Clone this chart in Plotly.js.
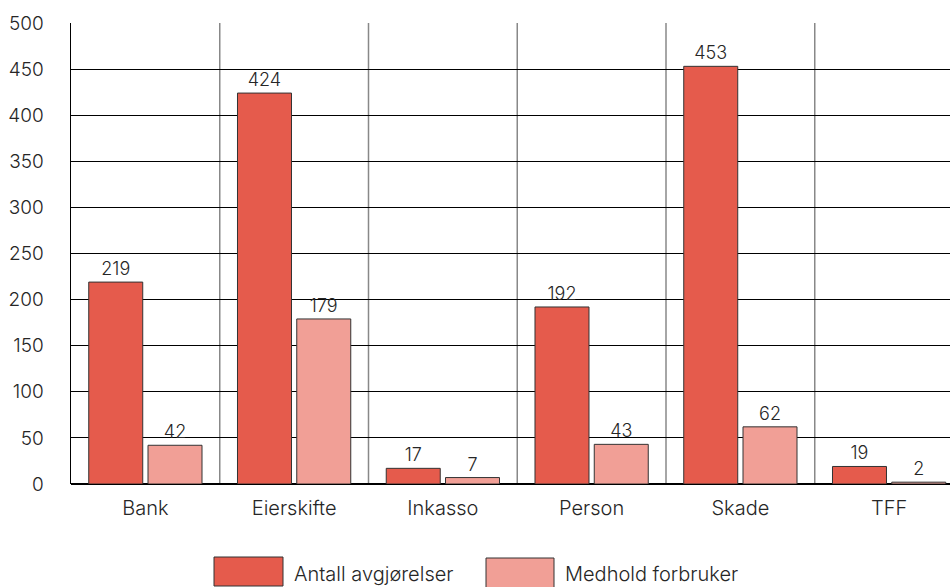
<!DOCTYPE html>
<html>
<head>
<meta charset="utf-8">
<script src="https://cdn.plot.ly/plotly-3.0.1.min.js"></script>
<style>
  html, body { margin: 0; padding: 0; background: #fff; overflow: hidden; }
  #chart { width: 950px; height: 587px; }
</style>
</head>
<body>
<div id="chart"></div>
<script>
// Complaint-board decisions per area
const categories = ["Bank", "Eierskifte", "Inkasso", "Person", "Skade", "TFF"];
const seriesNames = ["Antall avgjørelser", "Medhold forbruker"];
const antallAvgjorelser = [219, 424, 17, 192, 453, 19];
const medholdForbruker = [42, 179, 7, 43, 62, 2];
const yTicks = [0, 50, 100, 150, 200, 250, 300, 350, 400, 450, 500];

const colors = ["#E55B4C", "#F19F96"];
const FONT = "Inter, 'Noto Sans', sans-serif";
const TEXT = "#262626";
const WEIGHT = 300;

const W = 950, H = 587;
const M = { l: 71, r: 0, t: 23, b: 103 };
const plotW = W - M.l - M.r, plotH = H - M.t - M.b;
const catPx = 148.75; // width of one category slot
const xEnd = -0.5 + plotW / catPx;

function barTrace(name, values, color) {
  return {
    type: "bar",
    name: name,
    x: categories,
    y: values,
    text: values.map(String),
    textposition: "outside",
    cliponaxis: false,
    textfont: { family: FONT, size: 18, color: TEXT, weight: WEIGHT },
    marker: { color: color, line: { color: "#333", width: 1 } },
    showlegend: false,
    hoverinfo: "x+y+name"
  };
}

const data = [
  barTrace(seriesNames[0], antallAvgjorelser, colors[0]),
  barTrace(seriesNames[1], medholdForbruker, colors[1])
];

// gray separators between categories
const shapes = [];
for (let i = 1; i < categories.length; i++) {
  shapes.push({
    type: "line", xref: "x", yref: "paper",
    x0: i - 0.5, x1: i - 0.5, y0: 0, y1: 1,
    line: { color: "#888", width: 1.5 }, layer: "below"
  });
}

// custom legend below the plot (pixel -> paper helpers)
const px = v => (v - M.l) / plotW;
const py = v => (H - M.b - v) / plotH;
const annotations = [];
const legendItems = [
  { x: 214, w: 69, top: 557, bottom: 586 },
  { x: 486, w: 68, top: 558, bottom: 590 }
];
legendItems.forEach((it, i) => {
  shapes.push({
    type: "rect", xref: "paper", yref: "paper",
    x0: px(it.x), x1: px(it.x + it.w), y0: py(it.bottom), y1: py(it.top),
    fillcolor: colors[i], line: { color: "#333", width: 1 }
  });
  annotations.push({
    xref: "paper", yref: "paper",
    x: px(it.x + it.w + 9), y: py(574),
    xanchor: "left", yanchor: "middle",
    text: seriesNames[i], showarrow: false,
    font: { family: FONT, size: 20, color: TEXT, weight: WEIGHT }
  });
});

const layout = {
  width: W, height: H,
  margin: M,
  paper_bgcolor: "#fff",
  plot_bgcolor: "#fff",
  barmode: "group",
  bargap: 0.203,
  bargroupgap: 0.089,
  font: { family: FONT, color: TEXT, weight: WEIGHT },
  xaxis: {
    type: "category",
    range: [-0.5, xEnd],
    showgrid: false,
    showline: false,
    zeroline: false,
    ticks: "",
    ticklabelstandoff: 10,
    tickfont: { family: FONT, size: 20, color: TEXT, weight: WEIGHT },
    fixedrange: true
  },
  yaxis: {
    range: [0, 500],
    tickvals: yTicks,
    ticktext: yTicks.map(String),
    showgrid: true,
    gridcolor: "#000",
    gridwidth: 1,
    zeroline: true,
    zerolinecolor: "#000",
    zerolinewidth: 1.5,
    showline: true,
    linecolor: "#000",
    linewidth: 1.5,
    ticks: "",
    ticklabelstandoff: 22,
    tickfont: { family: FONT, size: 19, color: TEXT, weight: WEIGHT },
    fixedrange: true
  },
  shapes: shapes,
  annotations: annotations
};

Plotly.newPlot("chart", data, layout, { displayModeBar: false, staticPlot: true });
</script>
</body>
</html>
